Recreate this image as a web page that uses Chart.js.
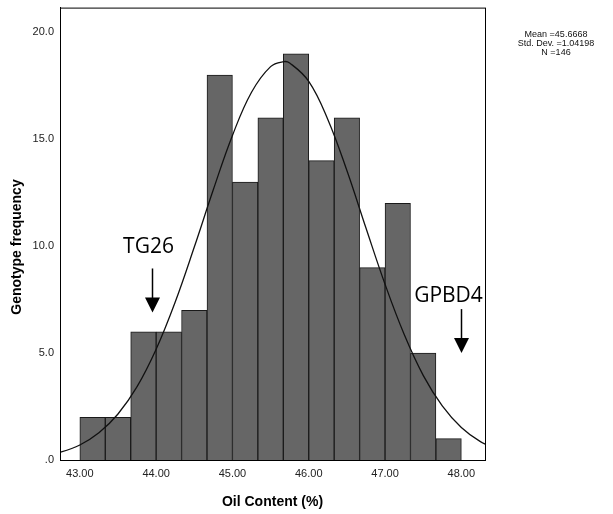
<!DOCTYPE html>
<html>
<head>
<meta charset="utf-8">
<script src="https://cdn.jsdelivr.net/npm/chart.js@4.4.0/dist/chart.umd.min.js"></script>
<style>
  html, body { margin: 0; padding: 0; background: #fff; }
  #wrap { width: 613px; height: 514px; }
</style>
</head>
<body>
<div id="wrap"><canvas id="myChart"></canvas></div>
<script>
// histogram bins: 15 bins of width 1/3 starting at 43.00
const binStart = 43.0;
const binWidth = 1 / 3;
const counts = [2, 2, 6, 6, 7, 18, 13, 16, 19, 14, 16, 9, 12, 5, 1];

// fitted normal curve
const curveX = [42.5, 42.75, 43.0, 43.25, 43.5, 43.75, 44.0, 44.25, 44.5, 44.75, 45.0, 45.25, 45.5, 45.67, 45.75, 46.0, 46.25, 46.5, 46.75, 47.0, 47.25, 47.5, 47.75, 48.0, 48.25, 48.5];
const curveY = [0.18, 0.37, 0.70, 1.27, 2.15, 3.43, 5.18, 7.39, 9.96, 12.65, 15.18, 17.2, 18.4, 18.63, 18.57, 17.71, 15.93, 13.54, 10.85, 8.22, 5.88, 3.96, 2.53, 1.52, 0.86, 0.46];

const statsLines = ["Mean =45.6668", "Std. Dev. =1.04198", "N =146"];

// arrow annotations
const annoLabels = ["TG26", "GPBD4"];
const annoX = [43.95, 48.0];
const annoTip = [6.9, 5.0];

const ctx = document.getElementById("myChart");

const bars = counts.map((c, i) => ({ x: binStart + (i + 0.5) * binWidth, y: c }));
const curve = curveX.map((x, i) => ({ x: x, y: curveY[i] }));

const extras = {
  id: "extras",
  afterDraw(chart) {
    const c = chart.ctx;
    const a = chart.chartArea;
    const xs = chart.scales.x;
    const ys = chart.scales.y;
    c.save();
    // frame
    c.strokeStyle = "#000";
    c.lineWidth = 1;
    c.strokeRect(a.left + 0.5, a.top + 0.5, a.right - a.left, a.bottom - a.top);

    // y title
    c.save();
    c.translate(17, 247);
    c.rotate(-Math.PI / 2);
    c.font = "bold 14px 'Liberation Sans'";
    c.textAlign = "center";
    c.textBaseline = "middle";
    c.fillStyle = "#000";
    c.fillText("Genotype frequency", 0, 0);
    c.restore();

    // arrows + labels
    c.fillStyle = "#000";
    c.strokeStyle = "#000";
    c.font = "21px 'Open Sans'";
    c.textAlign = "center";
    c.textBaseline = "middle";
    const txtOff = [[-4, -65], [-13, -57]];
    annoLabels.forEach((lab, i) => {
      const px = Math.round(xs.getPixelForValue(annoX[i])) + 0.5;
      const tip = ys.getPixelForValue(annoTip[i]);
      c.beginPath();
      c.lineWidth = 1.5;
      c.moveTo(px, tip - 44);
      c.lineTo(px, tip - 12);
      c.stroke();
      c.beginPath();
      c.moveTo(px - 7.5, tip - 15);
      c.lineTo(px + 7.5, tip - 15);
      c.lineTo(px, tip);
      c.closePath();
      c.fill();
      c.fillText(lab, px + txtOff[i][0], tip + txtOff[i][1]);
    });

    // stats box text
    c.font = "9px 'Liberation Sans'";
    c.fillStyle = "#111";
    statsLines.forEach((s, i) => c.fillText(s, 556, 35 + i * 8.7));
    c.restore();
  }
};

new Chart(ctx, {
  data: {
    datasets: [
      {
        type: "line",
        data: curve,
        borderColor: "#111",
        borderWidth: 1.3,
        pointRadius: 0,
        tension: 0.4,
        fill: false,
        order: 0,
      },
      {
        type: "bar",
        data: bars,
        backgroundColor: "#666666",
        borderColor: "#1a1a1a",
        borderWidth: 1,
        barPercentage: 1,
        categoryPercentage: 1,
        order: 1,
      },
    ],
  },
  options: {
    responsive: true,
    maintainAspectRatio: false,
    animation: false,
    layout: { padding: { left: 0, right: 128, top: 5, bottom: 0 } },
    plugins: {
      legend: { display: false },
      tooltip: { enabled: false },
    },
    scales: {
      x: {
        type: "linear",
        offset: false,
        min: 42.74,
        max: 48.31,
        grid: { display: false, offset: false, drawTicks: true, tickLength: 6, color: "#000" },
        border: { display: true, color: "#000" },
        ticks: {
          stepSize: 1,
          includeBounds: false,
          color: "#222",
          padding: 1,
          maxRotation: 0,
          font: { family: "'Liberation Sans'", size: 11 },
          callback: (v) => v.toFixed(2),
        },
        title: {
          display: true,
          text: "Oil Content (%)",
          color: "#000",
          font: { family: "'Liberation Sans'", size: 14, weight: "bold" },
          padding: { top: 5, bottom: 3 },
        },
        afterFit: (s) => { s.height = 54; },
      },
      y: {
        min: 0,
        max: 21.16,
        grid: { display: false, drawTicks: true, tickLength: 5, color: "#000" },
        border: { display: true, color: "#000" },
        ticks: {
          stepSize: 5,
          includeBounds: false,
          color: "#222",
          padding: 1,
          font: { family: "'Liberation Sans'", size: 11 },
          callback: (v) => (v === 0 ? ".0" : v.toFixed(1)),
        },
        afterFit: (s) => { s.width = 60; },
      },
    },
  },
  plugins: [extras],
});
</script>
</body>
</html>
